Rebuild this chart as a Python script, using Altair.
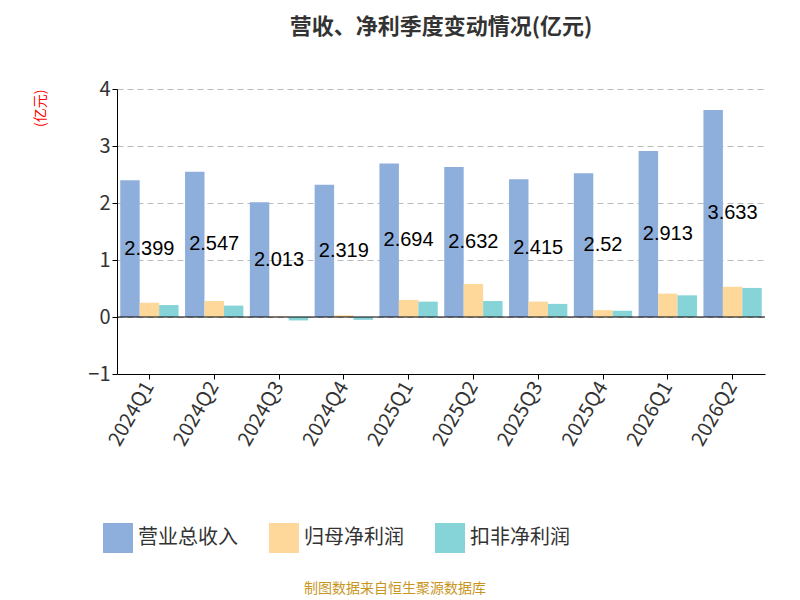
import altair as alt
import pandas as pd

quarters = ["2024Q1", "2024Q2", "2024Q3", "2024Q4", "2025Q1", "2025Q2",
            "2025Q3", "2025Q4", "2026Q1", "2026Q2"]
revenue = [2.399, 2.547, 2.013, 2.319, 2.694, 2.632, 2.415, 2.52, 2.913, 3.633]
net_profit = [0.25, 0.28, 0.01, 0.03, 0.30, 0.58, 0.27, 0.12, 0.41, 0.53]
deducted = [0.21, 0.20, -0.06, -0.05, 0.27, 0.28, 0.23, 0.11, 0.38, 0.51]
series = ["营业总收入", "归母净利润", "扣非净利润"]
colors = ["#8eaedb", "#fdd89a", "#86d4d8"]

rows = []
for i, q in enumerate(quarters):
    for s, v in zip(series, [revenue[i], net_profit[i], deducted[i]]):
        rows.append({"q": q, "s": s, "v": v})
df = pd.DataFrame(rows)
lab = pd.DataFrame({"q": quarters, "v": revenue, "mid": [r / 2 for r in revenue],
                    "t": [str(r) for r in revenue]})

FONT = "Noto Sans CJK SC"
x = alt.X("q:N", sort=quarters, title=None,
          scale=alt.Scale(paddingInner=0.1, paddingOuter=0.05),
          axis=alt.Axis(labelAngle=-60, labelFontSize=20, labelColor="#333",
                        domainColor="#000", tickColor="#000", labelPadding=4))
ys = alt.Scale(domain=[-1, 4])

bars = alt.Chart(df).mark_bar().encode(
    x=x,
    xOffset=alt.XOffset("s:N", sort=series),
    y=alt.Y("v:Q", scale=ys, title="(亿元)",
            axis=alt.Axis(values=[-1, 0, 1, 2, 3, 4], format="d", labelFontSize=20,
                          labelColor="#333", gridDash=[6, 4], gridColor="#bbb",
                          domainColor="#000", tickColor="#000", titleColor="red",
                          titleFontSize=14, titleFont=FONT, titleFontWeight="normal",
                          titleAngle=-90, titleAnchor="end", titlePadding=40)),
    color=alt.Color("s:N", sort=series, scale=alt.Scale(domain=series, range=colors),
                    legend=alt.Legend(title=None, orient="none", legendX=-15, legendY=433,
                                      direction="horizontal", symbolType="square",
                                      symbolSize=900, labelFontSize=20, labelFont=FONT,
                                      labelColor="#333", columnPadding=30)),
)
zero = alt.Chart(pd.DataFrame({"z": [0]})).mark_rule(color="#000").encode(y=alt.Y("z:Q", scale=ys))
text = alt.Chart(lab).mark_text(fontSize=20, color="#000").encode(
    x=alt.X("q:N", sort=quarters), y=alt.Y("mid:Q", scale=ys), text="t:N")
src = alt.Chart(pd.DataFrame({"t": ["制图数据来自恒生聚源数据库"]})).mark_text(
    fontSize=14, color="#c8961e", font=FONT).encode(
    text="t:N", x=alt.value(278), y=alt.value(500))

chart = alt.layer(bars, zero, text, src).properties(
    width=648, height=285,
    padding={"left": 25, "top": 8, "right": 5, "bottom": 5},
    title=alt.TitleParams("营收、净利季度变动情况(亿元)", fontSize=22, font=FONT,
                          fontWeight="bold", color="#333", anchor="middle", offset=40),
).configure_view(stroke=None).configure_axis(labelFont=FONT, grid=True).configure_axisX(grid=False)

chart.save("out.html", embed_options={"renderer": "svg", "actions": False})
